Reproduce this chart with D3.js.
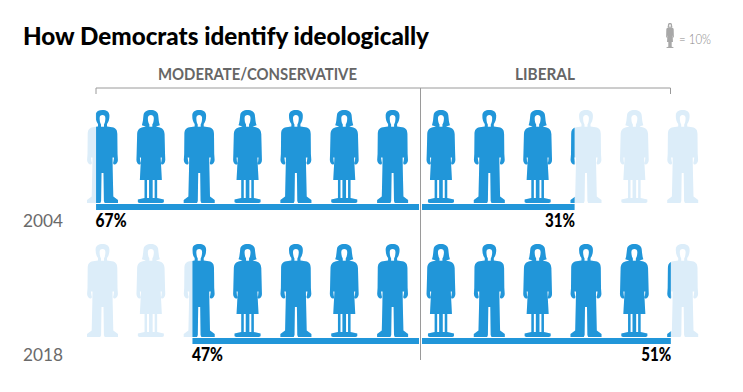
<!DOCTYPE html>
<html>
<head>
<meta charset="utf-8">
<script src="https://cdn.jsdelivr.net/npm/d3@7"></script>
<style>
  body { margin: 0; background: #fff; }
  svg { display: block; font-family: Lato, sans-serif; }
</style>
</head>
<body>
<svg id="chart" width="743" height="392"></svg>
<script>
// Data
const years = ["2004", "2018"];
const moderate = [67, 47];
const liberal = [31.4, 51.2];
const groups = ["MODERATE/CONSERVATIVE", "LIBERAL"];
const title = "How Democrats identify ideologically";
const legendLabel = "= 10%";
const iconUnits = d3.range(13); // 13 figures, men and women taking turns

// Figures, drawn 93px tall with the head top at 0 and centred on x=0
const manPath = "M0,0C3.8,0 6.8,1.5 6.9,5.5C7,9 6.2,12 4.5,14L4.5,16.5L9.5,17.2C13.5,18 14.7,20 14.8,24L15,44L15.4,50C15.4,52.5 13.5,54.5 11.8,54.5C10.6,54.5 10.4,53 11,51.5L11.6,47.5L10,47.5L10.2,60L10.8,86.5L15.5,90L15.5,93L2.2,93L1.4,91L1,63L-1,63L-1.4,91L-2.2,93L-15.5,93L-15.5,90L-10.8,86.5L-10.2,60L-10,47.5L-11.6,47.5L-11,51.5C-10.4,53 -10.6,54.5 -11.8,54.5C-13.5,54.5 -15.4,52.5 -15.4,50L-15,44L-14.8,24C-14.7,20 -13.5,18 -9.5,17.2L-4.5,16.5L-4.5,14C-6.2,12 -7,9 -6.9,5.5C-6.8,1.5 -3.8,0 0,0Z"
  + "M0,5C-2,5 -3,6.2 -2.9,8.5C-2.8,11 -2.4,13 -1.5,14.5L-1.5,16.8L1.5,16.8L1.5,14.5C2.4,13 2.8,11 2.9,8.5C3,6.2 2,5 0,5Z";
const womanPath = "M0,0C3.8,0 6.8,1.5 7.3,5C7.8,9 7.8,12 9,15.2L5,16.5L9,17.5C12.5,18.5 13.5,21 13.7,24L14.2,44L14.4,50C14.4,52.5 12.8,54.5 11.2,54.5C10,54.5 10,53 10.6,51.5L11,47.5L9.8,47.5L11,70L6.3,70L6.3,88L13,89.5L13,92C13,93 10,93 8,93L-8,93C-10,93 -13,93 -13,92L-13,89.5L-6.3,88L-6.3,70L-11,70L-9.8,47.5L-11,47.5L-10.6,51.5C-10,53 -10,54.5 -11.2,54.5C-12.8,54.5 -14.4,52.5 -14.4,50L-14.2,44L-13.7,24C-13.5,21 -12.5,18.5 -9,17.5L-5,16.5L-9,15.2C-7.8,12 -7.8,9 -7.3,5C-6.8,1.5 -3.8,0 0,0Z"
  + "M0,5C-2,5 -3.1,6.2 -3,8.5C-2.9,11 -2.5,13 -1.5,14.5L-1.5,16.8L1.5,16.8L1.5,14.5C2.5,13 2.9,11 3,8.5C3.1,6.2 2,5 0,5Z"
  + "M-3.8,70L-1.8,70L-1.8,88L-3.8,88ZM1.8,70L3.8,70L3.8,88L1.8,88Z";

const colours = {bar: "#2196d9", faded: "#dcedf9", rule: "#9a9a9a", heading: "#666", year: "#6a6a6a", legend: "#a8a8a8"};

const svg = d3.select("#chart");

// Shares run outwards from the central rule, one scale per side
const xModerate = d3.scaleLinear().domain([0, 100]).range([419, -63]);
const xLiberal = d3.scaleLinear().domain([0, 100]).range([422, 908]);
const xIcon = d3.scaleLinear().domain([0, 12]).range([102.5, 682.7]);
const yRow = d3.scaleBand().domain(years).range([110, 378]).paddingInner(0);

// Title
svg.append("text")
    .attr("x", 23).attr("y", 44.5)
    .attr("font-size", 25).attr("font-weight", 900)
    .attr("textLength", 406).attr("lengthAdjust", "spacingAndGlyphs")
    .attr("fill", "#000")
    .text(title);

// Legend
svg.append("path")
    .attr("d", womanPath)
    .attr("fill-rule", "nonzero")
    .attr("fill", colours.legend)
    .attr("transform", "translate(670,23) scale(0.27)");
svg.append("text")
    .attr("x", 679).attr("y", 44)
    .attr("font-size", 13).attr("font-weight", 300)
    .attr("textLength", 32).attr("lengthAdjust", "spacingAndGlyphs")
    .attr("fill", "#888")
    .text(legendLabel);

// Group headings and bracket
svg.selectAll("text.group")
    .data(groups)
    .enter()
    .append("text")
    .classed("group", true)
    .attr("x", (d, i) => i === 0 ? 158 : 515)
    .attr("y", 80)
    .attr("font-size", 17).attr("font-weight", 700)
    .attr("textLength", (d, i) => i === 0 ? 199 : 60)
    .attr("lengthAdjust", "spacingAndGlyphs")
    .attr("fill", colours.heading)
    .text(d => d);
svg.append("path")
    .attr("d", "M96,94V88H670.5V94M420.5,88V360")
    .attr("fill", "none")
    .attr("stroke", colours.rule)
    .attr("stroke-width", 1);

// Rows
const defs = svg.append("defs");
years.forEach((year, i) => {
    const top = yRow(year);
    const barStart = xModerate(moderate[i]);
    const barEnd = xLiberal(liberal[i]);

    defs.append("clipPath")
        .attr("id", `clip${year}`)
        .append("rect")
        .attr("x", barStart).attr("y", top - 2)
        .attr("width", barEnd - barStart).attr("height", 100);

    const row = svg.append("g").attr("transform", `translate(0, ${top})`);

    // Faded figures underneath, the same figures in full colour clipped to the bar
    const drawIcons = (parent, fill) => parent.selectAll("path")
        .data(iconUnits)
        .enter()
        .append("path")
        .attr("d", d => d % 2 === 0 ? manPath : womanPath)
        .attr("fill-rule", "evenodd")
        .attr("fill", fill)
        .attr("transform", d => `translate(${xIcon(d)}, 0)`);
    drawIcons(row.append("g"), colours.faded);
    svg.append("g")
        .attr("clip-path", `url(#clip${year})`)
        .append("g")
        .attr("transform", `translate(0, ${top})`)
        .call(g => drawIcons(g, colours.bar));

    // Bars
    row.append("rect")
        .attr("x", barStart).attr("y", 94)
        .attr("width", xModerate(0) - barStart).attr("height", 6)
        .attr("fill", colours.bar);
    row.append("rect")
        .attr("x", xLiberal(0)).attr("y", 94)
        .attr("width", barEnd - xLiberal(0)).attr("height", 6)
        .attr("fill", colours.bar);

    // Labels
    row.append("text")
        .attr("x", 23).attr("y", 117)
        .attr("font-size", 18).attr("font-weight", 400)
        .attr("textLength", 40).attr("lengthAdjust", "spacingAndGlyphs")
        .attr("fill", colours.year)
        .text(year);
    row.append("text")
        .attr("x", barStart - 0.5).attr("y", 117)
        .attr("font-size", 18).attr("font-weight", 900)
        .attr("textLength", 31).attr("lengthAdjust", "spacingAndGlyphs")
        .attr("fill", "#000")
        .text(`${Math.round(moderate[i])}%`);
    row.append("text")
        .attr("x", barEnd - 29.5).attr("y", 117)
        .attr("font-size", 18).attr("font-weight", 900)
        .attr("textLength", 30).attr("lengthAdjust", "spacingAndGlyphs")
        .attr("fill", "#000")
        .text(`${Math.round(liberal[i])}%`);
});
</script>
</body>
</html>
